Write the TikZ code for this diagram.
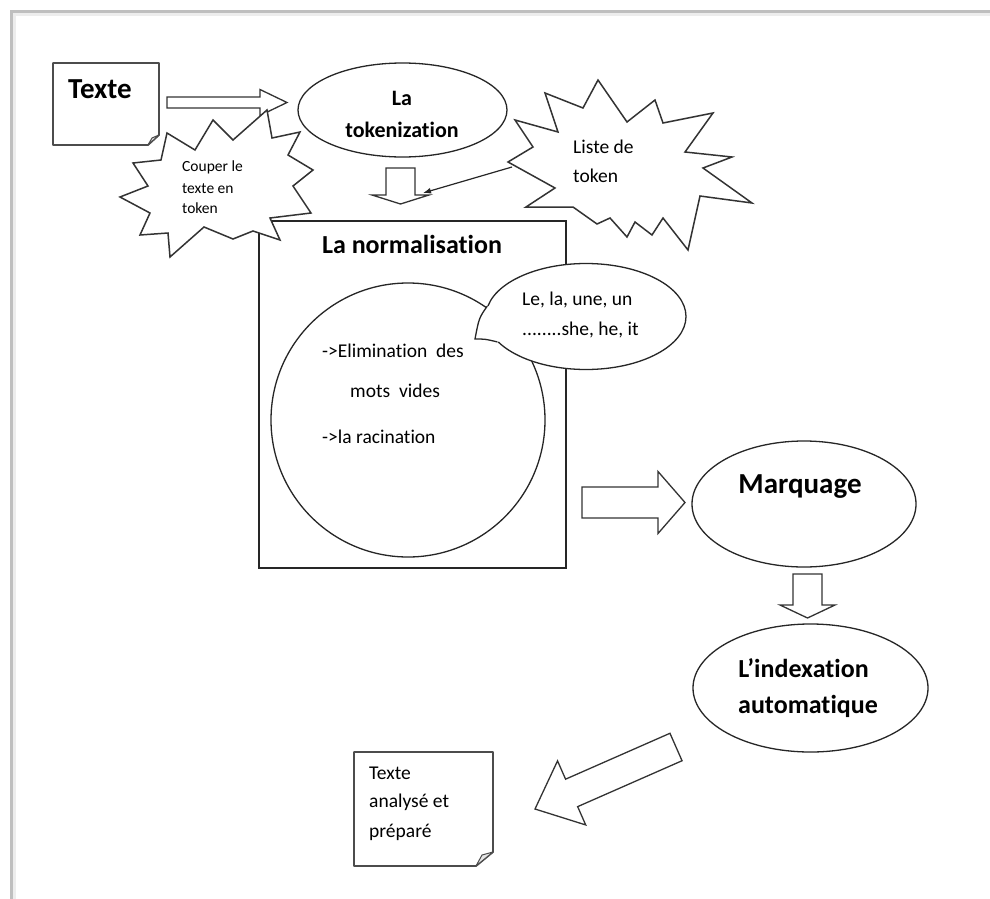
\documentclass[tikz,border=0pt]{standalone}
\usepackage{fontspec}
\setmainfont{Carlito}[Ligatures=CommonOff]
\usetikzlibrary{calc,shapes.geometric,arrows.meta}

\tikzset{
  line/.style={draw=black!85, line width=1.3pt},
  normbox/.style={rectangle, line, inner sep=0pt},
  oval/.style={ellipse, line, fill=white, inner sep=0pt},
  ring/.style={circle, line, inner sep=0pt},
  burst/.style={draw=black!80, line width=1.5pt, fill=white, line join=miter},
  blockarrow/.style={draw=black!80, line width=1.3pt, fill=white, line join=miter},
  notepaper/.style={draw=black!70, line width=1.8pt, fill=white, line join=round},
  foldtri/.style={draw=black!70, line width=1pt, fill=black!10, line join=round},
  pointer/.style={draw=black!85, line width=1.2pt, -{Latex[length=8pt,width=6pt]}},
  headA/.style={inner sep=0pt, font=\fontsize{29}{35}\selectfont\bfseries},
  headB/.style={inner sep=0pt, font=\fontsize{26}{32}\selectfont\bfseries},
  headC/.style={inner sep=0pt, font=\fontsize{22}{30}\selectfont\bfseries},
  bodytext/.style={inner sep=0pt, font=\fontsize{19.5}{24}\selectfont},
  smalltext/.style={inner sep=0pt, font=\fontsize{15.5}{20}\selectfont},
}

% hollow block arrow: tail, tip, shaft half width, head half width, head length
\newcommand\blockarrowpath[5]{%
  \path ($(#2)!#5!(#1)$) coordinate (ba-h);
  \draw[blockarrow] ($(#1)!#3!90:(#2)$) -- ($(ba-h)!#3!-90:(#1)$)
    -- ($(ba-h)!#4!-90:(#1)$) -- (#2) -- ($(ba-h)!#4!90:(#1)$)
    -- ($(ba-h)!#3!90:(#1)$) -- ($(#1)!#3!-90:(#2)$) -- cycle;
}

\begin{document}
\begin{tikzpicture}[x=1pt,y=-1pt]
\useasboundingbox (0,0) rectangle (990,899);
\fill[white] (0,0) rectangle (990,899);

% page edge
\draw[black!25, line width=3pt] (11,899) -- (11,12) -- (990,12);
\draw[black!7, line width=3pt] (14,899) -- (14,15) -- (990,15);

% main shapes
\node[normbox, minimum width=307pt, minimum height=347pt] (norm) at (412.5,394.5) {};
\node[ring, minimum size=274pt] (circ) at (408,420) {};
\node[oval, minimum width=209pt, minimum height=94pt] (tok) at (402.5,110) {};
\node[oval, minimum width=224pt, minimum height=126pt] (marq) at (804,504) {};
\node[oval, minimum width=235pt, minimum height=128pt] (idx) at (810.5,688) {};

% arrow from the first note to the tokenization step
\coordinate (a1s) at (167,102.5);
\coordinate (a1t) at (287,102.5);
\blockarrowpath{a1s}{a1t}{5.5pt}{13pt}{27pt}

% starburst: cutting the text into tokens
\draw[burst] (167,133) -- (195,150) -- (213,120) -- (233,140) -- (267,110)
  -- (272,138) -- (300,132) -- (288,155) -- (313,170) -- (293,186)
  -- (311,213) -- (270,218) -- (280,240) -- (253,231) -- (233,239)
  -- (204,227) -- (170,257) -- (168,233) -- (140,235) -- (150,213)
  -- (120,197) -- (148,186) -- (133,163) -- (161,160) -- cycle;

% starburst: list of tokens
\draw[burst] (515,120) -- (558,132) -- (545,93) -- (583,108) -- (598,80)
  -- (627,122) -- (655,100) -- (663,123) -- (713,113) -- (685,152)
  -- (732,157) -- (703,168) -- (752,203) -- (700,196) -- (688,250)
  -- (663,218) -- (652,235) -- (635,222) -- (627,237) -- (610,218)
  -- (597,224) -- (573,207) -- (526,207) -- (555,188) -- (508,162)
  -- (533,147) -- cycle;

% source text note
\draw[notepaper] (53,63) -- (159,63) -- (159,135) -- (148,145) -- (53,145) -- cycle;
\draw[foldtri] (159,135) -- (152,138) -- (148,145) -- cycle;

% result note
\draw[notepaper] (354,752) -- (493,752) -- (493,852) -- (476,866) -- (354,866) -- cycle;
\draw[foldtri] (493,852) -- (482,855) -- (476,866) -- cycle;

% callout with the stop words
\node[oval, minimum width=200pt, minimum height=106pt] (co) at (586,316.5) {};
\coordinate (cotip) at (475,339);
\fill[white] (co.174) .. controls (479,318) .. (cotip)
  .. controls (485,339) .. (co.196) -- (co.center) -- cycle;
\draw[line] (co.174) .. controls (479,318) .. (cotip)
  .. controls (485,339) .. (co.196);

% flow arrows
\coordinate (a2s) at (400.5,168);
\coordinate (a2t) at (400.5,204);
\blockarrowpath{a2s}{a2t}{14.5pt}{28.5pt}{9pt}
\coordinate (a3s) at (582,502.5);
\coordinate (a3t) at (685,502.5);
\blockarrowpath{a3s}{a3t}{15.5pt}{31pt}{27pt}
\coordinate (a4s) at (807.5,574);
\coordinate (a4t) at (807.5,618);
\blockarrowpath{a4s}{a4t}{14.5pt}{27.5pt}{13pt}
\coordinate (a5s) at (676,747);
\coordinate (a5t) at (535,809);
\blockarrowpath{a5s}{a5t}{15pt}{35pt}{40pt}

% pointer from the token list
\coordinate (lst) at (512,167);
\coordinate (lstend) at (423,193);
\draw[pointer] (lst) -- (lstend);

% texts
\node[headA, anchor=base west] (t-texte) at (68,98) {Texte};
\node[headC, anchor=base] (t-la) at (402,105) {La};
\node[headC, anchor=base] (t-tok) at (402,137) {tokenization};
\node[smalltext, anchor=base west] (t-c1) at (182,171) {Couper le};
\node[smalltext, anchor=base west] (t-c2) at (182,193) {texte en};
\node[smalltext, anchor=base west] (t-c3) at (182,213) {token};
\node[bodytext, anchor=base west] (t-l1) at (573,153) {Liste de};
\node[bodytext, anchor=base west] (t-l2) at (573,182) {token};
\node[headB, anchor=base] (t-norm) at (412,253) {La normalisation};
\node[bodytext, anchor=base west] (t-e1) at (322,357) {->Elimination\ \ des};
\node[bodytext, anchor=base west] (t-e2) at (350,397) {mots\ \ vides};
\node[bodytext, anchor=base west] (t-e3) at (322,443) {->la racination};
\node[bodytext, anchor=base west] (t-s1) at (522,305) {Le, la, une, un};
\node[bodytext, anchor=base west] (t-s2) at (522,335) {........she, he, it};
\node[headA, anchor=base] (t-marq) at (800,493) {Marquage};
\node[headB, anchor=base] (t-i1) at (803.5,677) {L’indexation};
\node[headB, anchor=base] (t-i2) at (808,713) {automatique};
\node[bodytext, anchor=base west] (t-r1) at (369,779) {Texte};
\node[bodytext, anchor=base west] (t-r2) at (369,807) {analysé et};
\node[bodytext, anchor=base west] (t-r3) at (369,837) {préparé};
\end{tikzpicture}
\end{document}
